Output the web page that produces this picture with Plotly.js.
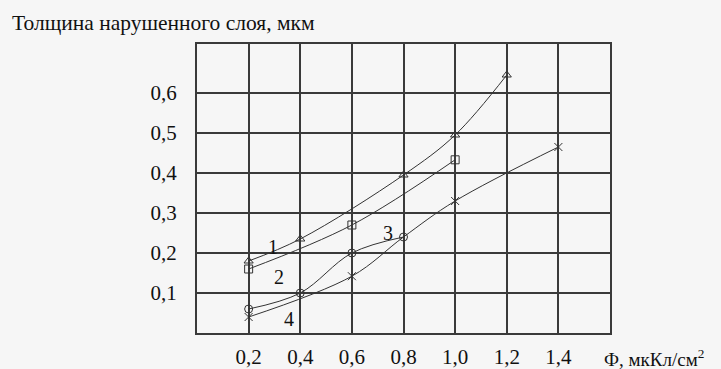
<!DOCTYPE html>
<html>
<head>
<meta charset="utf-8">
<script src="https://cdn.plot.ly/plotly-3.0.1.min.js"></script>
<style>html,body{margin:0;padding:0;background:#f6f6f6;}#chart{width:721px;height:369px;}</style>
</head>
<body>
<div id="chart"></div>
<script>
// Curve 1 (triangles)
const x1 = [0.2, 0.4, 0.8, 1.0, 1.2];
const y1 = [0.18, 0.235, 0.395, 0.495, 0.645];
// Curve 2 (squares)
const x2 = [0.2, 0.6, 1.0];
const y2 = [0.16, 0.27, 0.433];
// Curve 3 (circles)
const x3 = [0.2, 0.4, 0.6, 0.8];
const y3 = [0.06, 0.10, 0.20, 0.24];
// Curve 4 (crosses)
const x4 = [0.2, 0.6, 0.8, 1.0, 1.4];
const y4 = [0.04, 0.142, 0.24, 0.33, 0.465];
const x4m = [0.2, 0.6, 1.0, 1.4];
const y4m = [0.04, 0.142, 0.33, 0.465];

const xTickVals = [0.2, 0.4, 0.6, 0.8, 1.0, 1.2, 1.4];
const xTickText = ['0,2', '0,4', '0,6', '0,8', '1,0', '1,2', '1,4'];
const yTickVals = [0.1, 0.2, 0.3, 0.4, 0.5, 0.6];
const yTickText = ['0,1', '0,2', '0,3', '0,4', '0,5', '0,6'];

const curveLabels = ['1', '2', '3', '4'];
const labelX = [0.295, 0.318, 0.74, 0.357];
const labelY = [0.215, 0.14, 0.25, 0.035];

const lineStyle = {color: '#333', width: 1, shape: 'spline'};
const mk = (sym) => ({symbol: sym, size: 8, color: '#333', line: {color: '#333', width: 1}});

const traces = [
  {x: x1, y: y1, mode: 'lines+markers', line: lineStyle, marker: mk('triangle-up-open')},
  {x: x2, y: y2, mode: 'lines+markers', line: lineStyle, marker: mk('square-open')},
  {x: x3, y: y3, mode: 'lines+markers', line: lineStyle, marker: mk('circle-open')},
  {x: x4, y: y4, mode: 'lines', line: lineStyle},
  {x: x4m, y: y4m, mode: 'markers', marker: mk('x-thin-open')}
];

const FAM = 'Liberation Serif, serif';
const f = (s) => ({family: FAM, size: s, color: '#111'});

const annotations = curveLabels.map((t, i) => ({
  x: labelX[i], y: labelY[i], xref: 'x', yref: 'y', text: t, showarrow: false,
  font: f(20)
}));
annotations.push({
  x: (602 - 197) / 413, xref: 'paper', y: 0, yref: 'paper', text: 'Ф, мкКл/см<sup>2</sup>', showarrow: false,
  xanchor: 'left', yanchor: 'top', yshift: -11,
  font: f(19)
});

const layout = {
  width: 721, height: 369,
  margin: {l: 197, r: 111, t: 44, b: 36},
  paper_bgcolor: '#f6f6f6', plot_bgcolor: '#f6f6f6',
  showlegend: false,
  font: f(18),
  title: {text: 'Толщина нарушенного слоя, мкм', x: 12 / 721, xref: 'container', xanchor: 'left',
          y: 1 - 22 / 369, yref: 'container', yanchor: 'middle',
          font: f(21.5)},
  xaxis: {range: [0, 1.6], tickvals: xTickVals, ticktext: xTickText, showgrid: true,
          gridcolor: '#3a3a3a', gridwidth: 2, zeroline: false, showline: true, mirror: true,
          linecolor: '#3a3a3a', linewidth: 2, ticks: '', ticklabelstandoff: 4,
          tickfont: f(21), fixedrange: true},
  yaxis: {range: [0, 0.7225], tickvals: yTickVals, ticktext: yTickText, showgrid: true,
          gridcolor: '#3a3a3a', gridwidth: 2, zeroline: false, showline: true, mirror: true,
          linecolor: '#3a3a3a', linewidth: 2, ticks: '', ticklabelstandoff: 14,
          tickfont: f(21), fixedrange: true},
  annotations: annotations
};

Plotly.newPlot('chart', traces, layout, {displayModeBar: false, staticPlot: true});
</script>
</body>
</html>
